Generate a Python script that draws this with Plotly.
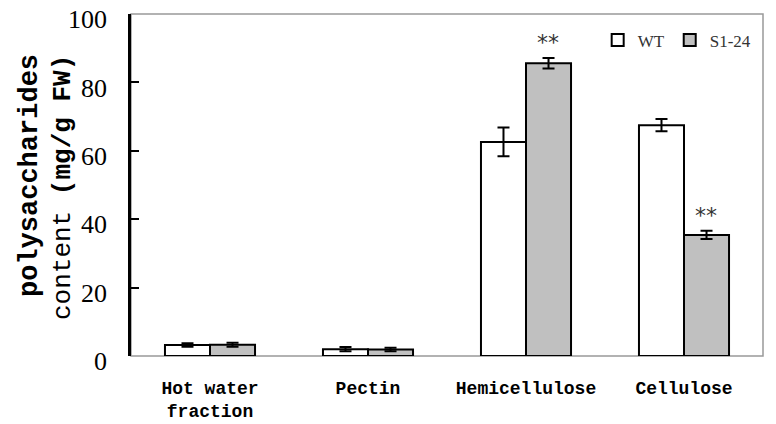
import plotly.graph_objects as go

categories = ["Hot water<br>fraction", "Pectin", "Hemicellulose", "Cellulose"]
wt_values = [3.2, 2.0, 62.6, 67.5]
wt_errors = [0.5, 0.6, 4.2, 1.8]
s124_values = [3.3, 1.9, 85.6, 35.4]
s124_errors = [0.6, 0.5, 1.5, 1.2]
signif = ["", "", "**", "**"]

fig = go.Figure()

fig.add_trace(go.Bar(
    x=categories, y=wt_values, name="WT",
    marker=dict(color="white", line=dict(color="black", width=2)),
    error_y=dict(type="data", array=wt_errors, color="black", thickness=2, width=6),
))
fig.add_trace(go.Bar(
    x=categories, y=s124_values, name="S1-24",
    marker=dict(color="#c0c0c0", line=dict(color="black", width=2)),
    error_y=dict(type="data", array=s124_errors, color="black", thickness=2, width=6),
))

# significance stars over the S1-24 bars
for cat, v, e, s in zip(categories, s124_values, s124_errors, signif):
    if s:
        fig.add_annotation(x=cat, y=v + e, text=s, showarrow=False,
                           xshift=22, yshift=1, yanchor="bottom",
                           font=dict(family="DejaVu Sans", size=22, color="#333"))

# y axis title, two lines set by hand
fig.add_annotation(xref="paper", yref="paper", x=0, y=0.5, xanchor="center", yanchor="middle",
                   xshift=-101, yshift=9, textangle=-90, showarrow=False,
                   text="<b>polysaccharides</b>",
                   font=dict(family="Liberation Mono", size=27, color="black"))
fig.add_annotation(xref="paper", yref="paper", x=0, y=0.5, xanchor="center", yanchor="middle",
                   xshift=-68, yshift=-3, textangle=-90, showarrow=False,
                   text="content <b>(mg/g FW)</b>",
                   font=dict(family="Liberation Mono", size=26, color="black"))

# gray frame around the plot area
fig.add_shape(type="rect", xref="paper", yref="paper", x0=0, y0=0, x1=1, y1=1,
              line=dict(color="#999", width=1.5), layer="below")

# page body adds an 8px margin, so the figure is a bit smaller than the window
fig.update_layout(
    width=768, height=416,
    margin=dict(l=123, r=13, t=6, b=68, autoexpand=False),
    plot_bgcolor="white", paper_bgcolor="white",
    barmode="group", bargap=0.43, bargroupgap=0,
    showlegend=True,
    legend=dict(orientation="h", x=0.99, y=0.975, xanchor="right", yanchor="top",
                font=dict(family="Liberation Serif", size=17, color="#333"),
                itemwidth=30, bgcolor="rgba(0,0,0,0)"),
    xaxis=dict(showline=False, ticks="", showgrid=False, ticklabelstandoff=19,
               tickfont=dict(family="Liberation Mono", size=18, color="black", weight="bold")),
    yaxis=dict(range=[0, 100], dtick=20, showgrid=False, zeroline=False,
               showline=True, linecolor="black", linewidth=2.5,
               ticks="inside", ticklen=8, tickwidth=2, tickcolor="black",
               ticklabelstandoff=16, ticklabelshift=5, ticklabeloverflow="allow",
               tickfont=dict(family="Liberation Serif", size=26, color="black")),
)

fig.write_html("out.html")
